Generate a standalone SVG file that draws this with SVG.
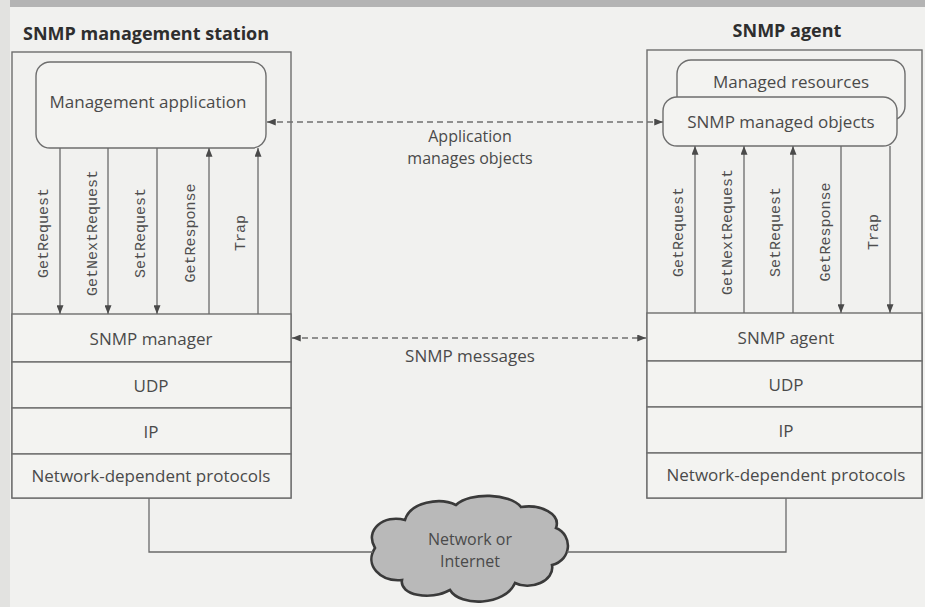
<svg xmlns="http://www.w3.org/2000/svg" width="925" height="607" viewBox="0 0 925 607">
<defs>
<style>
.bg{fill:#f1f1ef}
.box{fill:none;stroke:#6e6e6e;stroke-width:1.4}
.row{fill:#f3f3f1;stroke:#6e6e6e;stroke-width:1.4}
.rr{fill:#f3f3f1;stroke:#6e6e6e;stroke-width:1.4}
.ln{fill:none;stroke:#6a6a6a;stroke-width:1.3}
.dash{fill:none;stroke:#707070;stroke-width:1.3;stroke-dasharray:6 4}
.t{font-family:"Open Sans","Liberation Sans",sans-serif;font-size:17px;fill:#4a4a4a;text-anchor:middle}
.t2{font-family:"Open Sans","Liberation Sans",sans-serif;font-size:16px;fill:#4a4a4a;text-anchor:middle}
.title{font-family:"Open Sans","Liberation Sans",sans-serif;font-size:18px;font-weight:bold;fill:#2e2e2e}
.m{font-family:"Liberation Mono","DejaVu Sans Mono",monospace;font-size:15px;fill:#4e4e4e;text-anchor:middle}
.cloud{fill:#b9b9b9;stroke:#3a3a3a;stroke-width:2.6}
</style>
<marker id="ah" viewBox="0 0 10 8" refX="10" refY="4" markerWidth="9" markerHeight="7" markerUnits="userSpaceOnUse" orient="auto-start-reverse">
<path d="M0,0 L10,4 L0,8 Z" fill="#4a4a4a"/>
</marker>
</defs>
<rect class="bg" x="0" y="0" width="925" height="607"/>
<rect x="0" y="0" width="925" height="7" fill="#b4b4b4"/>
<rect x="0" y="0" width="10" height="607" fill="#e2e2e0"/>

<g id="station">
<text class="title" x="23" y="40">SNMP management station</text>
<rect class="box" x="12" y="52" width="279" height="446"/>
</g>
<g id="mgmt-app">
<rect class="rr" x="36" y="62" width="230" height="86" rx="14"/>
<text class="t" x="148" y="108">Management application</text>
</g>
<g id="snmp-manager">
<rect class="row" x="12" y="314" width="279" height="48"/>
<text class="t" x="151" y="345">SNMP manager</text>
</g>
<g id="udp-left">
<rect class="row" x="12" y="362" width="279" height="46"/>
<text class="t" x="151" y="392">UDP</text>
</g>
<g id="ip-left">
<rect class="row" x="12" y="408" width="279" height="46"/>
<text class="t" x="151" y="438">IP</text>
</g>
<g id="net-left">
<rect class="row" x="12" y="454" width="279" height="44"/>
<text class="t" x="151" y="482">Network-dependent protocols</text>
</g>

<g id="agent">
<text class="title" x="787" y="37" text-anchor="middle">SNMP agent</text>
<rect class="box" x="647" y="50" width="275" height="448"/>
</g>
<g id="managed-resources">
<rect class="rr" x="677" y="60" width="228" height="60" rx="14"/>
<text class="t" x="791" y="88">Managed resources</text>
</g>
<g id="managed-objects">
<rect class="rr" x="663" y="97" width="234" height="49" rx="14"/>
<text class="t" x="781" y="128">SNMP managed objects</text>
</g>
<g id="snmp-agent">
<rect class="row" x="647" y="313" width="275" height="48"/>
<text class="t" x="786" y="344">SNMP agent</text>
</g>
<g id="udp-right">
<rect class="row" x="647" y="361" width="275" height="46"/>
<text class="t" x="786" y="391">UDP</text>
</g>
<g id="ip-right">
<rect class="row" x="647" y="407" width="275" height="46"/>
<text class="t" x="786" y="437">IP</text>
</g>
<g id="net-right">
<rect class="row" x="647" y="453" width="275" height="45"/>
<text class="t" x="786" y="481">Network-dependent protocols</text>
</g>

<g id="cloud">
<path class="cloud" d="M375,548 C364,530 384,514 405,520 C410,502 440,497 456,505 C470,492 510,493 521,507 C541,504 561,514 556,528 C573,535 572,560 552,565 C555,581 530,591 515,583 C505,606 460,607 450,590 C430,601 399,595 402,580 C380,582 364,565 375,548 Z"/>
<text class="t2" x="470" y="545">Network or</text>
<text class="t2" x="470" y="567">Internet</text>
</g>

<g id="connectors">
<line class="ln" x1="60" y1="148" x2="60" y2="314" marker-end="url(#ah)"/>
<line class="ln" x1="108" y1="148" x2="108" y2="314" marker-end="url(#ah)"/>
<line class="ln" x1="157" y1="148" x2="157" y2="314" marker-end="url(#ah)"/>
<line class="ln" x1="209" y1="314" x2="209" y2="148" marker-end="url(#ah)"/>
<line class="ln" x1="258" y1="314" x2="258" y2="148" marker-end="url(#ah)"/>
<line class="ln" x1="695" y1="313" x2="695" y2="146" marker-end="url(#ah)"/>
<line class="ln" x1="744" y1="313" x2="744" y2="146" marker-end="url(#ah)"/>
<line class="ln" x1="793" y1="313" x2="793" y2="146" marker-end="url(#ah)"/>
<line class="ln" x1="841" y1="146" x2="841" y2="313" marker-end="url(#ah)"/>
<line class="ln" x1="890" y1="146" x2="890" y2="313" marker-end="url(#ah)"/>
<line class="dash" x1="267" y1="122" x2="663" y2="122" marker-start="url(#ah)" marker-end="url(#ah)"/>
<line class="dash" x1="292" y1="338" x2="646" y2="338" marker-start="url(#ah)" marker-end="url(#ah)"/>
<polyline class="ln" points="149,498 149,552 373,552"/>
<polyline class="ln" points="567,552 786,552 786,498"/>
</g>

<g id="labels">
<text class="m" transform="rotate(-90 48 233)" x="48" y="233">GetRequest</text>
<text class="m" transform="rotate(-90 97 233)" x="97" y="233">GetNextRequest</text>
<text class="m" transform="rotate(-90 145 233)" x="145" y="233">SetRequest</text>
<text class="m" transform="rotate(-90 195 233)" x="195" y="233">GetResponse</text>
<text class="m" transform="rotate(-90 245 233)" x="245" y="233">Trap</text>
<text class="m" transform="rotate(-90 683 232)" x="683" y="232">GetRequest</text>
<text class="m" transform="rotate(-90 732 232)" x="732" y="232">GetNextRequest</text>
<text class="m" transform="rotate(-90 780 232)" x="780" y="232">SetRequest</text>
<text class="m" transform="rotate(-90 830 232)" x="830" y="232">GetResponse</text>
<text class="m" transform="rotate(-90 878 232)" x="878" y="232">Trap</text>
<text class="t2" x="470" y="142">Application</text>
<text class="t2" x="470" y="164">manages objects</text>
<text class="t" x="470" y="362">SNMP messages</text>
</g>
</svg>
